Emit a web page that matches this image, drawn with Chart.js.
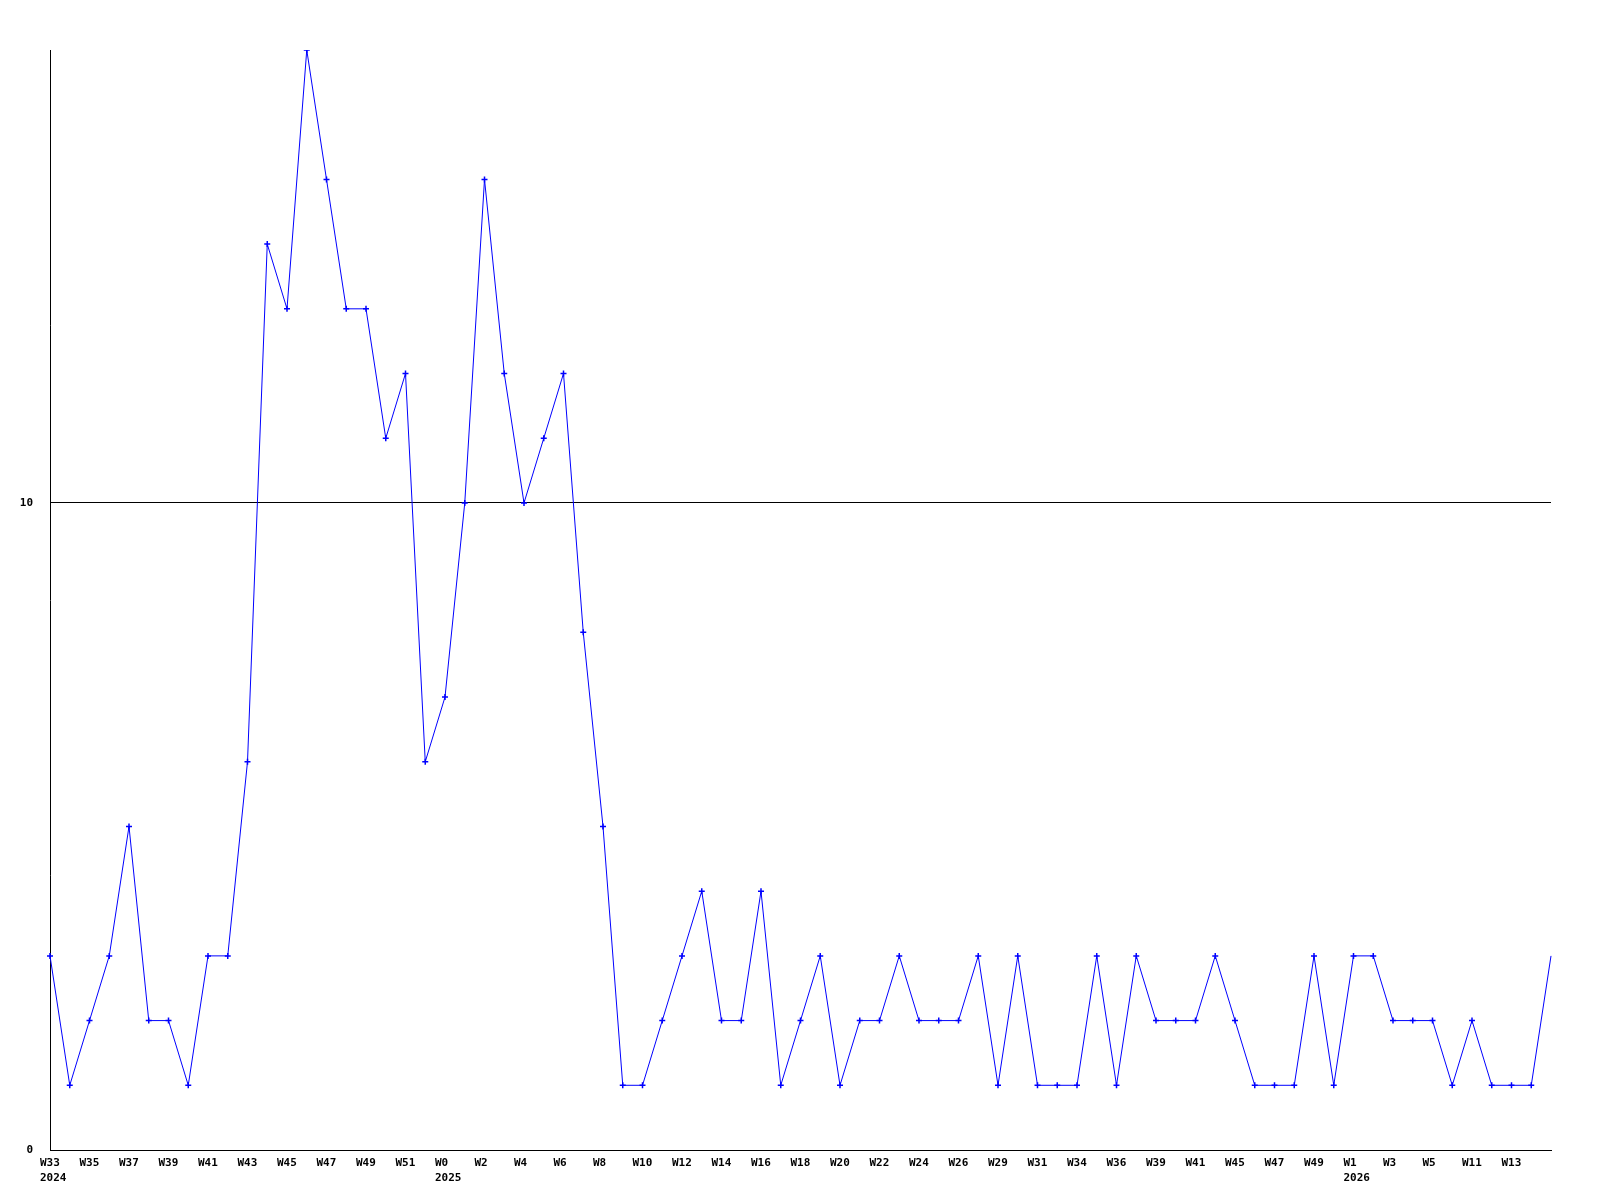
<!DOCTYPE html>
<html>
<head>
<meta charset="utf-8">
<script src="https://cdn.jsdelivr.net/npm/chart.js@4/dist/chart.umd.min.js"></script>
<style>
  body { margin: 0; background: #fff; }
  canvas { display: block; }
</style>
</head>
<body>
<canvas id="weekChart" width="1600" height="1200"></canvas>
<script>
// week labels (only every other one is shown on the axis)
var weeks = [
    'W33', 'W34', 'W35', 'W36', 'W37', 'W38', 'W39', 'W40', 'W41', 'W42',
    'W43', 'W44', 'W45', 'W46', 'W47', 'W48', 'W49', 'W50', 'W51', 'W52',
    'W0', 'W1', 'W2', 'W3', 'W4', 'W5', 'W6', 'W7', 'W8', 'W9',
    'W10', 'W11', 'W12', 'W13', 'W14', 'W15', 'W16', 'W17', 'W18', 'W19',
    'W20', 'W21', 'W22', 'W23', 'W24', 'W25', 'W26', 'W28', 'W29', 'W30',
    'W31', 'W33', 'W34', 'W35', 'W36', 'W38', 'W39', 'W40', 'W41', 'W43',
    'W45', 'W46', 'W47', 'W48', 'W49', 'W51', 'W1', 'W2', 'W3', 'W4',
    'W5', 'W8', 'W11', 'W12', 'W13', 'W14', 'W15'
];
// year shown under the first week of each year
var years = { 0: '2024', 20: '2025', 66: '2026' };

var counts = [
    3, 1, 2, 3, 5, 2, 2, 1, 3, 3,
    6, 14, 13, 17, 15, 13, 13, 11, 12, 6,
    7, 10, 15, 12, 10, 11, 12, 8, 5, 1,
    1, 2, 3, 4, 2, 2, 4, 1, 2, 3,
    1, 2, 2, 3, 2, 2, 2, 3, 1, 3,
    1, 1, 1, 3, 1, 3, 2, 2, 2, 3,
    2, 1, 1, 1, 3, 1, 3, 3, 2, 2,
    2, 1, 2, 1, 1, 1, 3
];

var yTicks = [0, 10];
var yMax = 17;

var labels = weeks.map(function (w, i) {
    return years[i] ? [w, years[i]] : w;
});

var monoFont = {
    family: '"DejaVu Sans Mono", monospace',
    size: 11,
    weight: 'bold',
    lineHeight: 1.4
};

new Chart(document.getElementById('weekChart'), {
    type: 'line',
    data: {
        labels: labels,
        datasets: [{
            data: counts,
            borderColor: '#0000ff',
            backgroundColor: '#0000ff',
            borderWidth: 1,
            tension: 0,
            fill: false,
            pointStyle: 'cross',
            pointBorderWidth: 1.5,
            pointRadius: function (ctx) {
                return ctx.dataIndex === counts.length - 1 ? 0 : 3;
            }
        }]
    },
    options: {
        responsive: false,
        animation: false,
        layout: {
            padding: { top: 50, right: 49, bottom: 0, left: 0 }
        },
        plugins: {
            legend: { display: false },
            tooltip: { enabled: false }
        },
        scales: {
            x: {
                offset: false,
                grid: { display: false, drawTicks: false },
                border: { display: true, color: '#000', width: 1 },
                ticks: {
                    autoSkip: false,
                    maxRotation: 0,
                    minRotation: 0,
                    align: 'start',
                    labelOffset: -10,
                    padding: 5,
                    color: '#000',
                    font: monoFont,
                    callback: function (value, index) {
                        // every other week, the last partial week gets no label
                        if (index % 2 !== 0 || index === counts.length - 1) return '';
                        return this.getLabelForValue(value);
                    }
                },
                afterFit: function (scale) {
                    scale.height = 50;
                }
            },
            y: {
                min: 0,
                max: yMax,
                grid: { color: '#000', lineWidth: 1, drawTicks: false },
                border: { display: true, color: '#000', width: 1 },
                ticks: {
                    padding: 17,
                    color: '#000',
                    font: monoFont
                },
                afterBuildTicks: function (scale) {
                    scale.ticks = yTicks.map(function (v) { return { value: v }; });
                },
                afterFit: function (scale) {
                    scale.width = 50;
                }
            }
        }
    }
});
</script>
</body>
</html>
